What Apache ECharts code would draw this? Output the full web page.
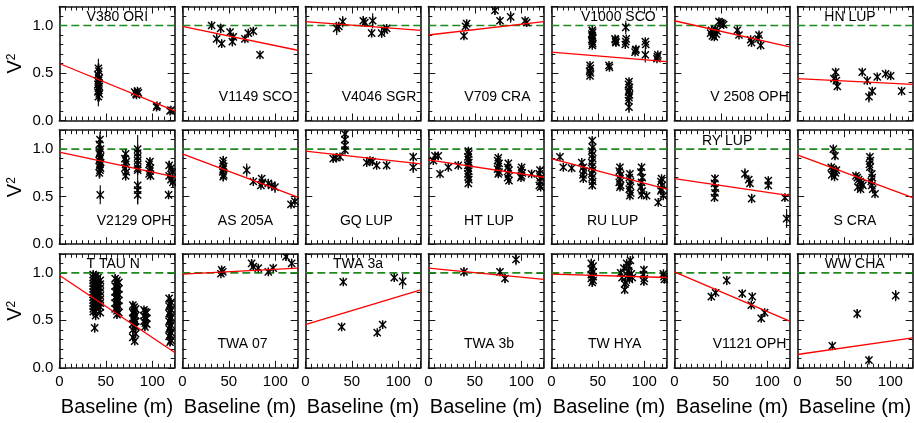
<!DOCTYPE html>
<html><head><meta charset="utf-8">
<script src="https://cdn.jsdelivr.net/npm/echarts@6/dist/echarts.min.js"></script>
<style>html,body{margin:0;padding:0;background:#fff}#c{width:914px;height:423px}</style>
</head><body><div id="c"></div>
<script>
// ---------- DATA ----------
const panelNames = ['V380 ORI','V1149 SCO','V4046 SGR','V709 CRA','V1000 SCO','V 2508 OPH','HN LUP',
  'V2129 OPH','AS 205A','GQ LUP','HT LUP','RU LUP','RY LUP','S CRA',
  'T TAU N','TWA 07','TWA 3a','TWA 3b','TW HYA','V1121 OPH','WW CHA'];
const xTickLabels = [0, 50, 100];
const yTickLabels = [0.0, 0.5, 1.0];
// linear fits: V^2 = intercept + slope * baseline
const fitIntercept = [0.60,0.99,1.04,0.90,0.72,1.05,0.44, 0.97,0.95,0.98,0.887,0.90,0.69,0.94, 0.975,0.985,0.455,1.05,0.985,1.01,0.14];
const fitSlope = [-0.00403,-0.00202,-0.00073,0.00113,-0.00081,-0.00222,-0.00048,
  -0.00210,-0.00367,-0.00109,-0.00147,-0.00258,-0.00145,-0.00363,
  -0.00657,0.00052,0.00294,-0.00097,-0.00028,-0.00419,0.00141];
// observations: [baseline (m), V^2, error]
const V380_ORI = [[42,0.55,0.1],[42.5,0.52,0.08],[41.5,0.48,0.1],[43,0.45,0.12],[42,0.42,0.1],[42.5,0.40,0.08],[41.5,0.38,0.12],[43,0.36,0.1],[42,0.34,0.08],[42.5,0.32,0.1],[41.5,0.30,0.1],[43,0.28,0.08],[42,0.25,0.1],[42.5,0.44,0.06],
  [81,0.30,0.02],[82.5,0.28,0.03],[84,0.31,0.02],[85,0.29,0.02],[83,0.27,0.02],[104.5,0.14,0.02],[105,0.155,0.02],[119,0.10,0.02],[120,0.11,0.02]];
const V1149_SCO = [[31.5,1.0,0.03],[36.9,0.86,0.06],[41.2,0.97,0.05],[42.3,0.81,0.04],[51.3,0.93,0.04],[53.8,0.83,0.05],[54.8,0.88,0.03],[67.3,0.86,0.03],[70.9,0.92,0.03],[76.3,0.94,0.03],[83.5,0.69,0.02]];
const V4046_SGR = [[33.7,0.97,0.07],[36,0.99,0.05],[40.2,1.04,0.06],[62.3,1.05,0.05],[64,1.03,0.04],[72.4,1.05,0.08],[71.3,0.92,0.04],[82,0.92,0.05],[87.4,0.97,0.04],[85,0.95,0.03]];
const V709_CRA = [[38.3,0.89,0.03],[41.2,1.02,0.04],[40,0.99,0.03],[71.6,1.16,0.05],[77,1.05,0.04],[88.5,1.09,0.06],[105.7,1.03,0.03],[104,1.05,0.02]];
const V1000_SCO = [[44,0.95,0.02],[44.5,0.93,0.02],[43.5,0.91,0.02],[44,0.89,0.02],[44.5,0.87,0.02],[43.5,0.85,0.02],[44,0.83,0.02],[44.5,0.81,0.02],[44,0.79,0.02],
  [41.6,0.58,0.02],[42,0.55,0.02],[41.2,0.52,0.02],[42,0.50,0.02],[41.6,0.47,0.02],[62,0.58,0.02],[62.5,0.56,0.02],
  [69,0.85,0.02],[69.5,0.82,0.02],[68.5,0.86,0.02],[69.2,0.83,0.02],[80,0.98,0.07],[80,0.83,0.03],[79.5,0.80,0.02],[80.5,0.86,0.02],
  [83.5,0.41,0.03],[83,0.38,0.03],[84,0.35,0.03],[83.5,0.32,0.03],[83,0.30,0.03],[84,0.27,0.03],[83.5,0.24,0.03],[83,0.21,0.03],[83.5,0.14,0.06],
  [90.6,0.74,0.02],[90,0.72,0.02],[91,0.75,0.02],[101,0.83,0.03],[101.5,0.80,0.02],[101,0.69,0.08],[114,0.67,0.02],[113.5,0.65,0.02],[114.5,0.69,0.02]];
const V2508_OPH = [[39,0.92,0.02],[40,0.95,0.02],[41,0.89,0.02],[42,0.93,0.02],[43,0.88,0.02],[44,0.96,0.02],[45,0.91,0.02],[46,0.94,0.02],[48,1.04,0.03],[51.6,1.02,0.03],[50,1.03,0.02],[53,1.01,0.02],
  [67.7,0.95,0.03],[69.5,0.90,0.02],[82,0.85,0.03],[83,0.82,0.02],[91,0.90,0.03],[92.8,0.79,0.03],[90,0.86,0.02]];
const HN_LUP = [[41.2,0.51,0.04],[39.4,0.44,0.03],[43,0.36,0.03],[42,0.42,0.03],[69.8,0.51,0.03],[75.2,0.42,0.04],[77,0.25,0.06],[80.6,0.31,0.04],[85.9,0.46,0.02],[94.9,0.49,0.02],[100.3,0.47,0.04],[112.1,0.31,0.02]];
const V2129_OPH = [[43.7,1.10,0.08],[43,1.05,0.06],[44.3,1.00,0.08],[43.7,0.97,0.05],[43,0.95,0.06],[44.3,0.92,0.05],[43.7,0.90,0.08],[43,0.88,0.05],[44.3,0.86,0.06],[43.7,0.84,0.05],[43,0.82,0.06],[44.3,0.80,0.05],[43.7,0.78,0.08],[43,0.75,0.06],[44,0.52,0.1],
  [71.3,0.95,0.05],[70.5,0.90,0.05],[72,0.87,0.05],[71.3,0.84,0.05],[70.5,0.80,0.05],[72,0.76,0.05],[71.3,0.72,0.05],
  [84.2,1.00,0.15],[84.2,0.96,0.05],[84.2,0.92,0.05],[84.2,0.88,0.05],[84.2,0.84,0.05],[84.2,0.80,0.05],[84.2,0.78,0.05],[84.2,0.62,0.2],[84.2,0.57,0.1],[84.2,0.52,0.1],
  [97.4,0.87,0.04],[96.5,0.84,0.04],[98,0.80,0.04],[97.4,0.77,0.04],[96.5,0.74,0.04],[98,0.72,0.04],[117.4,0.52,0.04],
  [118,0.83,0.05],[120,0.80,0.05],[122,0.76,0.05],[118,0.72,0.05],[120,0.68,0.05],[122,0.65,0.05]];
const AS_205A = [[44,0.88,0.05],[43.5,0.85,0.05],[44.5,0.82,0.05],[44,0.79,0.05],[43.5,0.76,0.05],[44.5,0.73,0.05],[44,0.71,0.05],
  [69.2,0.78,0.07],[76.3,0.66,0.02],[85.3,0.69,0.03],[86,0.65,0.03],[84.5,0.62,0.02],[92.4,0.64,0.05],[99.6,0.60,0.06],[96,0.62,0.04],[116.8,0.42,0.03],[121,0.45,0.03]];
const GQ_LUP = [[30,0.90,0.02],[33,0.91,0.02],[37.3,0.92,0.02],[42.6,1.16,0.05],[42.6,1.10,0.04],[42.6,1.04,0.04],[42.6,0.99,0.03],[66,0.86,0.03],[69.5,0.88,0.02],[72,0.87,0.02],[76.7,0.83,0.02],[87.4,0.83,0.02],[116,0.92,0.04],[116,0.81,0.06]];
const HT_LUP = [[5.4,0.88,0.02],[7.2,0.93,0.02],[10.7,0.93,0.02],[12.6,0.74,0.02],[21.5,0.81,0.03],[32.2,0.83,0.02],
  [43,0.98,0.03],[43.5,0.95,0.03],[42.5,0.92,0.03],[43,0.89,0.03],[43.5,0.86,0.03],[42.5,0.83,0.03],[43,0.80,0.03],[43.5,0.77,0.03],[42.5,0.74,0.03],[43,0.71,0.03],[43.5,0.68,0.03],[43,0.64,0.05],
  [75.2,0.91,0.03],[74.5,0.88,0.03],[76,0.85,0.03],[75.2,0.82,0.03],[74.5,0.79,0.03],[76,0.76,0.03],[75.2,0.74,0.03],
  [86,0.85,0.03],[85.3,0.81,0.03],[86.7,0.78,0.03],[86,0.74,0.03],[85.3,0.70,0.03],[86.7,0.67,0.03],
  [100.3,0.81,0.02],[99.6,0.78,0.02],[101,0.75,0.02],[100.3,0.72,0.02],[99.6,0.70,0.02],[111,0.74,0.02],
  [120,0.78,0.03],[119.3,0.74,0.03],[120.7,0.70,0.03],[120,0.66,0.03],[119.3,0.62,0.03],[120.7,0.60,0.03]];
const RU_LUP = [[9.3,0.92,0.02],[12.9,0.81,0.02],[21.9,0.80,0.02],[32.7,0.86,0.02],[34.4,0.81,0.02],[35,0.77,0.02],[34,0.73,0.02],[34.4,0.69,0.02],
  [44,1.09,0.04],[44.5,1.02,0.04],[43.5,0.98,0.04],[44,0.94,0.04],[44.5,0.90,0.04],[43.5,0.86,0.04],[44,0.82,0.04],[44.5,0.78,0.04],[43.5,0.74,0.04],[44,0.70,0.04],[44.5,0.66,0.04],[44,0.62,0.04],
  [73.8,0.81,0.03],[73,0.77,0.03],[74.5,0.73,0.03],[73.8,0.69,0.03],[73,0.65,0.03],[74.5,0.62,0.03],[73.8,0.60,0.03],
  [84.5,0.74,0.03],[83.8,0.70,0.03],[85.2,0.66,0.03],[84.5,0.62,0.03],[83.8,0.58,0.03],[85.2,0.54,0.03],[84.5,0.51,0.03],
  [97,0.81,0.04],[96.3,0.76,0.03],[97.7,0.70,0.03],[97,0.65,0.03],[96.3,0.60,0.03],[97.7,0.56,0.03],[97,0.52,0.03],[102.4,0.51,0.02],
  [114.9,0.44,0.02],[118.5,0.69,0.03],[117.8,0.66,0.03],[119.2,0.62,0.03],[118.5,0.58,0.03],[117.8,0.56,0.03],[120.3,0.51,0.02]];
const RY_LUP = [[43.7,0.69,0.04],[43.2,0.64,0.04],[44.2,0.59,0.04],[43.7,0.54,0.04],[43.2,0.49,0.04],[75.9,0.74,0.06],[81.3,0.64,0.04],[80,0.68,0.03],[83.1,0.48,0.05],[101,0.67,0.03],[101,0.62,0.03],[118.9,0.49,0.03],[120.7,0.27,0.1]];
const S_CRA = [[36.5,0.81,0.03],[38,0.79,0.03],[39.5,0.77,0.03],[41,0.75,0.03],[37,0.73,0.03],[40,0.71,0.03],[42,0.78,0.03],[38.7,1.00,0.05],[40.5,0.93,0.04],
  [63,0.72,0.03],[64.5,0.70,0.03],[66,0.68,0.03],[67.5,0.66,0.03],[69,0.64,0.03],[70.5,0.62,0.03],[65,0.60,0.03],[68,0.58,0.03],
  [78,0.92,0.03],[78.5,0.88,0.03],[77.5,0.84,0.03],[78,0.81,0.03],[80,0.74,0.03],[80.5,0.70,0.03],[79.5,0.66,0.03],[80,0.62,0.03],[81,0.58,0.03],[83.5,0.53,0.02]];
const T_TAU_N = [[36.5,0.98,0.05],[36.5,0.95,0.05],[36.5,0.92,0.05],[36.5,0.89,0.05],[36.5,0.86,0.05],[36.5,0.83,0.05],[36.5,0.80,0.05],[36.5,0.77,0.05],[36.5,0.74,0.05],[36.5,0.71,0.05],[36.5,0.68,0.05],[36.5,0.65,0.05],[36.5,0.62,0.05],[36.5,0.59,0.05],
  [39,0.97,0.05],[39,0.93,0.05],[39,0.89,0.05],[39,0.85,0.05],[39,0.81,0.05],[39,0.77,0.05],[39,0.73,0.05],[39,0.69,0.05],[39,0.65,0.05],[39,0.60,0.05],[39,0.55,0.05],
  [41.5,0.95,0.05],[41.5,0.90,0.05],[41.5,0.86,0.05],[41.5,0.82,0.05],[41.5,0.78,0.05],[41.5,0.74,0.05],[41.5,0.70,0.05],[41.5,0.66,0.05],
  [44,0.92,0.05],[44,0.88,0.05],[44,0.84,0.05],[44,0.80,0.05],[44,0.76,0.05],[44,0.72,0.05],[44,0.68,0.05],[44,0.64,0.05],[44,0.58,0.05],[38,0.42,0.05],
  [60,0.94,0.04],[64,0.90,0.04],[60,0.86,0.04],[64,0.83,0.04],[60,0.80,0.04],[64,0.77,0.04],[60,0.74,0.04],[64,0.71,0.04],[60,0.68,0.04],[64,0.65,0.04],[60,0.62,0.04],[64,0.58,0.04],[62,0.56,0.04],
  [62,0.92,0.04],[62,0.88,0.04],[62,0.84,0.04],[62,0.80,0.04],[62,0.76,0.04],[62,0.72,0.04],[62,0.68,0.04],[62,0.64,0.04],[62,0.60,0.04],
  [79,0.66,0.04],[82,0.62,0.04],[79,0.58,0.04],[82,0.55,0.04],[79,0.52,0.04],[82,0.49,0.04],[79,0.46,0.04],[82,0.43,0.04],[79,0.40,0.04],[82,0.36,0.04],[79,0.32,0.04],[81,0.28,0.04],
  [80.5,0.64,0.04],[80.5,0.60,0.04],[80.5,0.56,0.04],[80.5,0.52,0.04],[80.5,0.48,0.04],[80.5,0.44,0.04],
  [91,0.61,0.03],[94,0.58,0.03],[91,0.55,0.03],[94,0.52,0.03],[91,0.49,0.03],[94,0.46,0.03],[92,0.43,0.03],[92.5,0.59,0.03],[92.5,0.53,0.03],[92.5,0.47,0.03],
  [118,0.73,0.04],[120,0.69,0.04],[118,0.65,0.04],[120,0.61,0.04],[118,0.57,0.04],[120,0.53,0.04],[118,0.49,0.04],[120,0.45,0.04],[118,0.41,0.04],[120,0.37,0.04],[118,0.33,0.04],[120,0.29,0.04],[119,0.27,0.04],
  [119,0.67,0.04],[119,0.59,0.04],[119,0.51,0.04],[119,0.43,0.04],[119,0.35,0.04]];
const TWA_07 = [[42.3,1.03,0.03],[41.5,0.99,0.02],[43.5,1.01,0.02],[74.5,1.10,0.04],[76.3,1.065,0.03],[81.6,1.05,0.03],[92.4,1.01,0.02],[97.7,1.05,0.03],[111.4,1.17,0.04],[117.5,1.10,0.05]];
const TWA_3a = [[40.8,0.905,0.02],[39.1,0.43,0.02],[77.3,0.37,0.02],[83.1,0.455,0.03],[95.6,0.95,0.03],[104.6,0.91,0.08]];
const TWA_3b = [[38.3,1.01,0.05],[77,1.01,0.04],[82.4,0.94,0.05],[94.2,1.14,0.06]];
const TW_HYA = [[43,1.10,0.05],[45,1.07,0.05],[43,1.04,0.05],[45,1.01,0.05],[43,0.98,0.05],[45,0.96,0.05],[43,0.94,0.05],[45,0.92,0.05],[44,0.90,0.05],
  [74.5,1.00,0.04],[76,0.95,0.04],[78,1.05,0.04],[78.8,0.82,0.04],[80,0.90,0.04],[81,1.10,0.04],[82,0.97,0.04],[83,1.02,0.04],[84,0.93,0.04],[85,1.13,0.04],[86,0.99,0.04],[87,0.95,0.04],[79,0.88,0.04],[83.5,1.07,0.04],
  [99.5,1.03,0.04],[99,0.98,0.04],[100,0.94,0.04],[99.5,0.91,0.04],[121,0.96,0.03],[120.5,0.99,0.03],[121.5,0.93,0.03]];
const V1121_OPH = [[39.8,0.75,0.03],[44.4,0.79,0.04],[56.3,0.92,0.05],[73,0.78,0.04],[83.8,0.75,0.03],[82.7,0.66,0.03],[93.4,0.52,0.03],[97.1,0.58,0.04]];
const WW_CHA = [[37.6,0.23,0.02],[64.4,0.57,0.05],[77,0.08,0.03],[105.7,0.76,0.06]];
const observations = [V380_ORI,V1149_SCO,V4046_SGR,V709_CRA,V1000_SCO,V2508_OPH,HN_LUP,
  V2129_OPH,AS_205A,GQ_LUP,HT_LUP,RU_LUP,RY_LUP,S_CRA,
  T_TAU_N,TWA_07,TWA_3a,TWA_3b,TW_HYA,V1121_OPH,WW_CHA];

// ---------- LAYOUT (positions of panel name labels in data units) ----------
const labelAnchorX = [62.3,78.8,79.2,74.3,72,80.8,56.6, 80.4,67.9,65.6,65.2,65.9,56.8,62, 58,64.7,56.6,65.2,68.1,80.8,61.7];
const labelAtTop = [1,0,0,0,1,0,1, 0,0,0,0,0,1,0, 1,0,1,0,0,0,1];

// ---------- CHART ----------
const FONT = '"Liberation Sans", Arial, Helvetica, sans-serif';
const X_MAX = 124, Y_MAX = 1.2;
const chart = echarts.init(document.getElementById('c'));
const grids = [], xAxes = [], yAxes = [], series = [];
const INK = '#161616';
const rowTop = [6.5, 130.2, 253.8];

observations.forEach((pts, i) => {
  const r = Math.floor(i / 7), c = i % 7;
  grids.push({left: 59.3 + c * 123, top: rowTop[r], width: 115.4, height: 114,
    containLabel: false, outerBoundsMode: 'none', show: false});
  const axisLine = {show: true, onZero: false, lineStyle: {color: INK, width: 1.6}};
  const axisTick = {show: true, inside: true, length: 7, lineStyle: {color: INK, width: 1}};
  const xMinor = {show: true, splitNumber: 8, length: 4, lineStyle: {color: INK, width: 1}};
  const yMinor = {show: true, splitNumber: 5, length: 4, lineStyle: {color: INK, width: 1}};
  const bottomRow = r === 2, leftCol = c === 0;
  xAxes.push({gridIndex: i, type: 'value', position: 'bottom', min: 0, max: X_MAX, interval: 50,
    axisLine, axisTick, minorTick: xMinor, splitLine: {show: false},
    axisLabel: {show: bottomRow, showMaxLabel: false, showMinLabel: true, margin: 7, fontSize: 15, color: '#000', fontFamily: FONT,
      formatter: v => xTickLabels.includes(v) ? String(v) : ''},
    name: bottomRow ? 'Baseline (m)' : '', nameLocation: 'middle', nameGap: 30,
    nameTextStyle: {fontSize: 20, color: '#000', fontFamily: FONT}});
  xAxes.push({gridIndex: i, type: 'value', position: 'top', min: 0, max: X_MAX, interval: 50,
    axisLine, axisTick, minorTick: xMinor, splitLine: {show: false}, axisLabel: {show: false}});
  yAxes.push({gridIndex: i, type: 'value', position: 'left', min: 0, max: Y_MAX, interval: 0.5,
    axisLine, axisTick, minorTick: yMinor, splitLine: {show: false},
    axisLabel: {show: leftCol, showMaxLabel: false, margin: 6, fontSize: 15, color: '#000', fontFamily: FONT,
      formatter: v => yTickLabels.some(t => Math.abs(t - v) < 1e-9) ? v.toFixed(1) : ''},
    name: leftCol ? '{v|V}{s|2}' : '', nameLocation: 'middle', nameRotate: 90, nameGap: 34,
    nameTextStyle: {fontFamily: FONT, color: '#000',
      rich: {v: {fontSize: 20, fontFamily: FONT, color: '#000'}, s: {fontSize: 12, fontFamily: FONT, color: '#000', verticalAlign: 'top'}}}});
  yAxes.push({gridIndex: i, type: 'value', position: 'right', min: 0, max: Y_MAX, interval: 0.5,
    axisLine, axisTick, minorTick: yMinor, splitLine: {show: false}, axisLabel: {show: false}});

  const xi = 2 * i, yi = 2 * i;
  // unity reference
  series.push({type: 'line', xAxisIndex: xi, yAxisIndex: yi, data: [[0, 1], [X_MAX, 1]],
    symbol: 'none', silent: true, z: 1, lineStyle: {color: '#1f8a1f', width: 1.7, type: [8, 4]}});
  // observations with error bars
  series.push({type: 'custom', xAxisIndex: xi, yAxisIndex: yi, data: pts, clip: true, z: 2,
    encode: {x: 0, y: 1}, silent: true,
    renderItem: (params, api) => {
      const x = api.value(0), y = api.value(1), e = api.value(2);
      const p = api.coord([x, y]), t = api.coord([x, y + e]), b = api.coord([x, y - e]);
      const s = 3.6, st = {stroke: '#000', lineWidth: 1.45, fill: null};
      const eb = {stroke: '#000', lineWidth: 1.1, fill: null};
      return {type: 'group', children: [
        {type: 'line', shape: {x1: p[0], y1: t[1], x2: p[0], y2: b[1]}, style: eb},
        {type: 'line', shape: {x1: p[0] - s, y1: p[1] - s, x2: p[0] + s, y2: p[1] + s}, style: st},
        {type: 'line', shape: {x1: p[0] - s, y1: p[1] + s, x2: p[0] + s, y2: p[1] - s}, style: st},
        {type: 'line', shape: {x1: p[0], y1: p[1] - s - 0.8, x2: p[0], y2: p[1] + s + 0.8}, style: st}
      ]};
    }});
  // fit line
  series.push({type: 'line', xAxisIndex: xi, yAxisIndex: yi, z: 3, silent: true, symbol: 'none',
    data: [[0, fitIntercept[i]], [X_MAX, fitIntercept[i] + fitSlope[i] * X_MAX]],
    lineStyle: {color: '#ff0000', width: 1.3}});
  // panel name
  series.push({type: 'custom', xAxisIndex: xi, yAxisIndex: yi, z: 4, silent: true,
    data: [[labelAnchorX[i], labelAtTop[i] ? 1.09 : 0.245]], encode: {x: 0, y: 1},
    renderItem: (params, api) => {
      const p = api.coord([api.value(0), api.value(1)]);
      return {type: 'text', x: p[0], y: p[1], style: {text: panelNames[i], fill: '#000',
        fontSize: 14, fontFamily: FONT, align: 'center', verticalAlign: 'middle'}};
    }});
});

chart.setOption({animation: false, backgroundColor: '#fff', textStyle: {fontFamily: FONT},
  grid: grids, xAxis: xAxes, yAxis: yAxes, series});
</script></body></html>
